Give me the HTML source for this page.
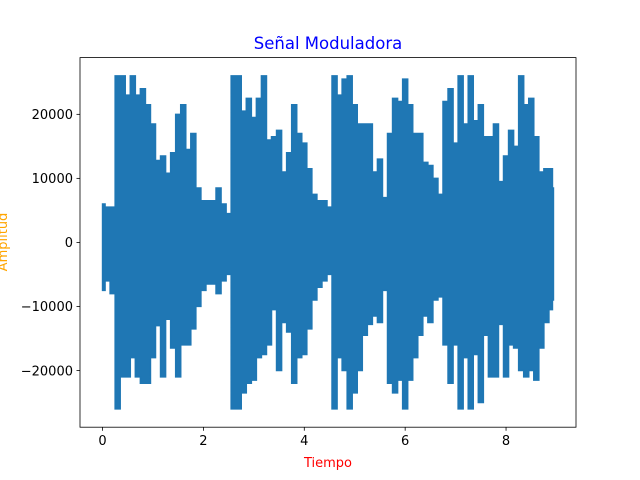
<!DOCTYPE html>
<html><head><meta charset="utf-8"><style>
html,body{margin:0;padding:0;background:#fff;}
svg{display:block;font-family:"DejaVu Sans","Liberation Sans",sans-serif;}
</style></head><body>
<svg id="chart" width="640" height="480" viewBox="0 0 640 480">
<rect x="0" y="0" width="640" height="480" fill="#fff"/>
<g id="plot"></g>
<rect x="80" y="57.6" width="496" height="369.6" fill="none" stroke="#000" stroke-width="0.8"/>
<g id="ticks" font-size="13" fill="#000"></g>
<text x="328" y="49" text-anchor="middle" font-size="16.5" fill="#0000ff">Señal Moduladora</text>
<text x="328" y="467" text-anchor="middle" font-size="13" fill="#ff0000">Tiempo</text>
<text transform="translate(7,242) rotate(-90)" text-anchor="middle" font-size="13" fill="#ffa500">Amplitud</text>
</svg>
<script>
const times = [0,0.1,0.2,0.3,0.4,0.5,0.6,0.7,0.8,0.9,1.0,1.1,1.2,1.3,1.4,1.5,1.6,1.7,1.8,1.9,2.0,2.1,2.2,2.3,2.4,2.5,2.6,2.7,2.8,2.9,3.0,3.1,3.2,3.3,3.4,3.5,3.6,3.7,3.8,3.9,4.0,4.1,4.2,4.3,4.4,4.5,4.6,4.7,4.8,4.9,5.0,5.1,5.2,5.3,5.4,5.5,5.6,5.7,5.8,5.9,6.0,6.1,6.2,6.3,6.4,6.5,6.6,6.7,6.8,6.9,7.0,7.1,7.2,7.3,7.4,7.5,7.6,7.7,7.8,7.9,8.0,8.1,8.2,8.3,8.4,8.5,8.6,8.7,8.8,8.9,8.94];
const upperEnv = [6000,5500,5500,26000,26000,23000,26000,23000,24000,21500,18500,12800,13500,10800,14000,20000,21500,14500,17000,8500,6500,6500,6500,8500,6000,4500,26000,26000,20500,22500,19500,22500,26000,16000,16500,17500,11000,14000,21500,17000,15500,11500,7500,6500,6500,5500,26000,23000,25500,26000,21500,18500,18500,18500,11000,13000,7000,17000,22500,22000,25500,21500,17000,17000,12500,12000,10000,7500,22000,24000,15500,26000,18500,26000,19000,21500,16500,16500,18500,9500,13500,17500,15000,26000,21500,22500,16500,11000,11500,11500,8500];
const lowerEnv = [-7500,-6000,-8000,-26000,-21000,-21000,-18000,-21000,-22000,-22000,-18000,-13000,-21000,-12000,-16500,-21000,-16000,-16000,-13500,-10000,-7500,-6500,-6500,-8000,-6000,-5000,-26000,-26000,-23500,-22000,-21500,-18000,-17500,-16000,-10500,-20000,-12500,-14000,-22000,-18000,-17500,-13500,-9000,-7000,-6000,-5000,-26000,-18000,-20000,-26000,-23500,-20000,-14500,-12800,-11500,-12500,-7500,-22000,-23500,-21500,-26000,-21500,-18000,-14500,-11500,-12500,-9000,-8500,-16000,-22000,-16000,-26000,-18000,-26000,-17500,-25000,-14500,-21000,-21000,-12800,-21000,-16000,-16500,-20000,-21000,-20000,-21500,-16500,-12500,-10500,-9000];
const xTicks = [0,2,4,6,8];
const yTicks = [-20000,-10000,0,10000,20000];

const xMin=-0.447, xMax=9.387, yMin=-28860, yMax=28860;
const L=80,R=576,T=57.6,B=427.2;
function sx(v){return L+(v-xMin)/(xMax-xMin)*(R-L);}
function sy(v){return B-(v-yMin)/(yMax-yMin)*(B-T);}
const NS="http://www.w3.org/2000/svg";
const plot=document.getElementById('plot');
const n=times.length;
function edges(i){
  const a=i===0?times[0]:(times[i-1]+times[i])/2;
  const b=i===n-1?times[n-1]:(times[i]+times[i+1])/2;
  return [a,b];
}
let pts=[];
for(let i=0;i<n;i++){const [a,b]=edges(i);const y=sy(upperEnv[i]).toFixed(2);pts.push(sx(a).toFixed(2)+","+y);pts.push(sx(b).toFixed(2)+","+y);}
for(let i=n-1;i>=0;i--){const [a,b]=edges(i);const y=sy(lowerEnv[i]).toFixed(2);pts.push(sx(b).toFixed(2)+","+y);pts.push(sx(a).toFixed(2)+","+y);}
const poly=document.createElementNS(NS,'polygon');
poly.setAttribute('points',pts.join(' '));
poly.setAttribute('fill','#1f77b4');
poly.setAttribute('stroke','#1f77b4');
poly.setAttribute('stroke-width','1.5');


plot.appendChild(poly);

const tg=document.getElementById('ticks');
xTicks.forEach(v=>{
  const x=sx(v);
  const l=document.createElementNS(NS,'line');
  l.setAttribute('x1',x);l.setAttribute('x2',x);l.setAttribute('y1',B);l.setAttribute('y2',B+3.5);
  l.setAttribute('stroke','#000');l.setAttribute('stroke-width','0.8');
  
  
  tg.appendChild(l);
  const t=document.createElementNS(NS,'text');
  t.setAttribute('x',x);t.setAttribute('y',B+18);t.setAttribute('text-anchor','middle');
  t.textContent=v;
  
  
  tg.appendChild(t);
});
yTicks.forEach(v=>{
  const y=sy(v);
  const l=document.createElementNS(NS,'line');
  l.setAttribute('x1',L-3.5);l.setAttribute('x2',L);l.setAttribute('y1',y);l.setAttribute('y2',y);
  l.setAttribute('stroke','#000');l.setAttribute('stroke-width','0.8');
  
  
  tg.appendChild(l);
  const t=document.createElementNS(NS,'text');
  t.setAttribute('x',L-7);t.setAttribute('y',y+4.8);t.setAttribute('text-anchor','end');
  t.textContent=(v<0?'\u2212':'')+Math.abs(v);
  
  
  tg.appendChild(t);
});
</script>
</body></html>
